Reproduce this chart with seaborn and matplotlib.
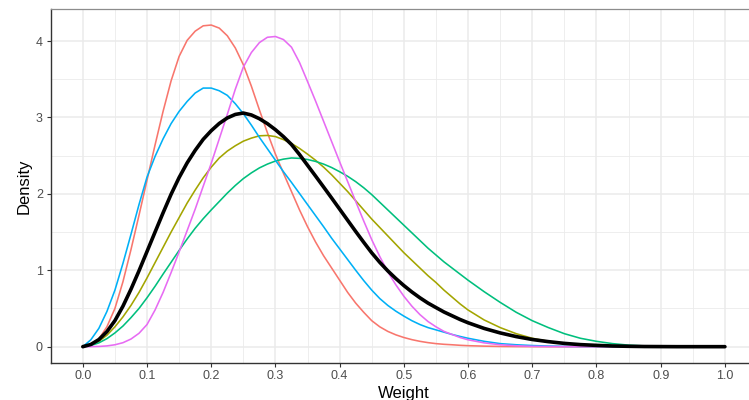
import matplotlib
matplotlib.use("Agg")
import matplotlib.pyplot as plt
import pandas as pd
import seaborn as sns
from matplotlib.ticker import MultipleLocator

# ---- data ----
weight = [0.0, 0.0125, 0.025, 0.0375, 0.05, 0.0625, 0.075, 0.0875, 0.1, 0.1125,
          0.125, 0.1375, 0.15, 0.1625, 0.175, 0.1875, 0.2, 0.2125, 0.225, 0.2375,
          0.25, 0.2625, 0.275, 0.2875, 0.3, 0.3125, 0.325, 0.3375, 0.35, 0.3625,
          0.375, 0.3875, 0.4, 0.4125, 0.425, 0.4375, 0.45, 0.4625, 0.475, 0.4875,
          0.5, 0.5125, 0.525, 0.5375, 0.55, 0.5625, 0.575, 0.5875, 0.6,
          0.625, 0.65, 0.675, 0.7, 0.725, 0.75, 0.775, 0.8, 0.825, 0.85,
          0.875, 0.9, 0.925, 0.95, 0.975, 1.0]

red = [0.0, 0.02, 0.10, 0.26, 0.50, 0.85, 1.27, 1.72, 2.18, 2.64,
       3.08, 3.48, 3.80, 4.01, 4.13, 4.20, 4.21, 4.17, 4.07, 3.91,
       3.69, 3.41, 3.10, 2.80, 2.52, 2.27, 2.03, 1.79, 1.57, 1.37,
       1.19, 1.03, 0.87, 0.71, 0.57, 0.45, 0.34, 0.26, 0.20, 0.155,
       0.12, 0.092, 0.07, 0.053, 0.04, 0.031, 0.025, 0.018, 0.013,
       0.007, 0.003, 0.001, 0.0, 0.0, 0.0, 0.0, 0.0, 0.0, 0.0,
       0.0, 0.0, 0.0, 0.0, 0.0, 0.0]

olive = [0.0, 0.02, 0.07, 0.15, 0.26, 0.39, 0.54, 0.71, 0.90, 1.10,
         1.30, 1.50, 1.69, 1.88, 2.05, 2.21, 2.35, 2.47, 2.56, 2.63,
         2.69, 2.73, 2.76, 2.765, 2.75, 2.71, 2.66, 2.595, 2.52, 2.44,
         2.35, 2.25, 2.14, 2.03, 1.91, 1.79, 1.67, 1.56, 1.45, 1.34,
         1.23, 1.13, 1.03, 0.93, 0.84, 0.74, 0.65, 0.56, 0.48,
         0.35, 0.25, 0.17, 0.11, 0.07, 0.04, 0.022, 0.012, 0.006, 0.003,
         0.001, 0.0, 0.0, 0.0, 0.0, 0.0]

green = [0.0, 0.015, 0.05, 0.105, 0.18, 0.27, 0.38, 0.50, 0.64, 0.79,
         0.95, 1.105, 1.26, 1.41, 1.55, 1.675, 1.79, 1.90, 2.01, 2.11,
         2.20, 2.275, 2.34, 2.39, 2.43, 2.455, 2.47, 2.465, 2.45, 2.425,
         2.39, 2.345, 2.29, 2.23, 2.16, 2.08, 1.99, 1.89, 1.79, 1.69,
         1.59, 1.49, 1.39, 1.29, 1.20, 1.11, 1.03, 0.95, 0.87,
         0.72, 0.58, 0.45, 0.34, 0.25, 0.17, 0.11, 0.07, 0.04, 0.02,
         0.01, 0.005, 0.002, 0.001, 0.0, 0.0]

blue = [0.0, 0.09, 0.24, 0.46, 0.74, 1.09, 1.47, 1.86, 2.22, 2.49,
        2.72, 2.92, 3.08, 3.21, 3.32, 3.385, 3.385, 3.35, 3.29, 3.18,
        3.05, 2.90, 2.74, 2.59, 2.44, 2.29, 2.15, 2.005, 1.86, 1.715,
        1.57, 1.42, 1.28, 1.14, 1.00, 0.865, 0.74, 0.63, 0.54, 0.465,
        0.40, 0.34, 0.29, 0.25, 0.22, 0.19, 0.16, 0.134, 0.11,
        0.07, 0.04, 0.025, 0.015, 0.008, 0.004, 0.002, 0.001, 0.0, 0.0,
        0.0, 0.0, 0.0, 0.0, 0.0, 0.0]

pink = [0.0, 0.0005, 0.003, 0.01, 0.025, 0.052, 0.10, 0.175, 0.29, 0.48,
        0.71, 0.97, 1.24, 1.52, 1.80, 2.10, 2.40, 2.72, 3.04, 3.37,
        3.66, 3.85, 3.98, 4.05, 4.06, 4.02, 3.92, 3.72, 3.47, 3.215,
        2.95, 2.685, 2.42, 2.16, 1.90, 1.645, 1.40, 1.18, 0.98, 0.81,
        0.66, 0.53, 0.42, 0.33, 0.26, 0.20, 0.16, 0.12, 0.09,
        0.05, 0.025, 0.012, 0.005, 0.002, 0.001, 0.0, 0.0, 0.0, 0.0,
        0.0, 0.0, 0.0, 0.0, 0.0, 0.0]

black = [0.0, 0.029, 0.093, 0.197, 0.341, 0.530, 0.752, 0.993, 1.246, 1.500,
         1.752, 1.995, 2.214, 2.406, 2.570, 2.714, 2.827, 2.922, 2.994, 3.040,
         3.058, 3.033, 2.984, 2.919, 2.840, 2.749, 2.646, 2.515, 2.374, 2.233,
         2.090, 1.946, 1.800, 1.654, 1.508, 1.366, 1.228, 1.104, 0.992, 0.892,
         0.800, 0.716, 0.640, 0.571, 0.512, 0.454, 0.405, 0.356, 0.313,
         0.239, 0.180, 0.132, 0.094, 0.066, 0.043, 0.027, 0.017, 0.009, 0.005,
         0.002, 0.001, 0.0, 0.0, 0.0, 0.0]

series_names = ["s1", "s2", "s3", "s4", "s5"]
series_values = [red, olive, green, blue, pink]
palette = {"s1": "#F8766D", "s2": "#A3A500", "s3": "#00BF7D",
           "s4": "#00B0F6", "s5": "#E76BF3"}

x_ticks = [0.0, 0.1, 0.2, 0.3, 0.4, 0.5, 0.6, 0.7, 0.8, 0.9, 1.0]
x_tick_labels = ["0.0", "0.1", "0.2", "0.3", "0.4", "0.5", "0.6", "0.7", "0.8", "0.9", "1.0"]
y_ticks = [0, 1, 2, 3, 4]
y_tick_labels = ["0", "1", "2", "3", "4"]

for vals in series_values + [black]:
    assert len(vals) == len(weight), len(vals)

# ---- long table ----
rows = []
for name, vals in zip(series_names, series_values):
    for xv, yv in zip(weight, vals):
        rows.append({"Weight": xv, "Density": yv, "series": name})
df = pd.DataFrame(rows)
df_black = pd.DataFrame({"Weight": weight, "Density": black})

sns.set_theme(style="white")
plt.rcParams['font.family'] = ['Liberation Sans', 'DejaVu Sans']

fig = plt.figure(figsize=(7.49, 4.0), dpi=100)
ax = fig.add_axes([0.0677, 0.0932, 0.9430, 0.8843])
ax.set_facecolor("white")

sns.lineplot(data=df, x="Weight", y="Density", hue="series", palette=palette,
             hue_order=series_names, estimator=None, sort=False,
             linewidth=1.15, legend=False, ax=ax, zorder=3)
sns.lineplot(data=df_black, x="Weight", y="Density", color="black",
             estimator=None, sort=False, linewidth=2.6, ax=ax, zorder=4)

ax.set_xlim(-0.05, 1.05)
ax.set_ylim(-0.21, 4.42)
ax.set_xticks(x_ticks)
ax.set_xticklabels(x_tick_labels)
ax.set_yticks(y_ticks)
ax.set_yticklabels(y_tick_labels)
ax.xaxis.set_minor_locator(MultipleLocator(0.05))
ax.yaxis.set_minor_locator(MultipleLocator(0.5))

ax.set_axisbelow(True)
ax.grid(which="major", color="#EBEBEB", linewidth=1.1)
ax.grid(which="minor", color="#EBEBEB", linewidth=0.6)

ax.tick_params(axis="both", which="major", length=2.6, width=0.8,
               color="#333333", labelcolor="#4D4D4D", labelsize=9, pad=3,
               bottom=True, left=True)
ax.tick_params(axis="both", which="minor", length=0)

for side in ["left", "bottom"]:
    ax.spines[side].set_color("#333333")
    ax.spines[side].set_linewidth(1.0)
ax.spines["top"].set_color("#8C8C8C")
ax.spines["top"].set_linewidth(0.9)
ax.spines["right"].set_color("#8C8C8C")
ax.spines["right"].set_linewidth(0.9)

ax.set_xlabel("Weight", fontsize=12, color="black", labelpad=2.5)
ax.set_ylabel("Density", fontsize=12, color="black", labelpad=3)

fig.savefig("out.png", dpi=100)
